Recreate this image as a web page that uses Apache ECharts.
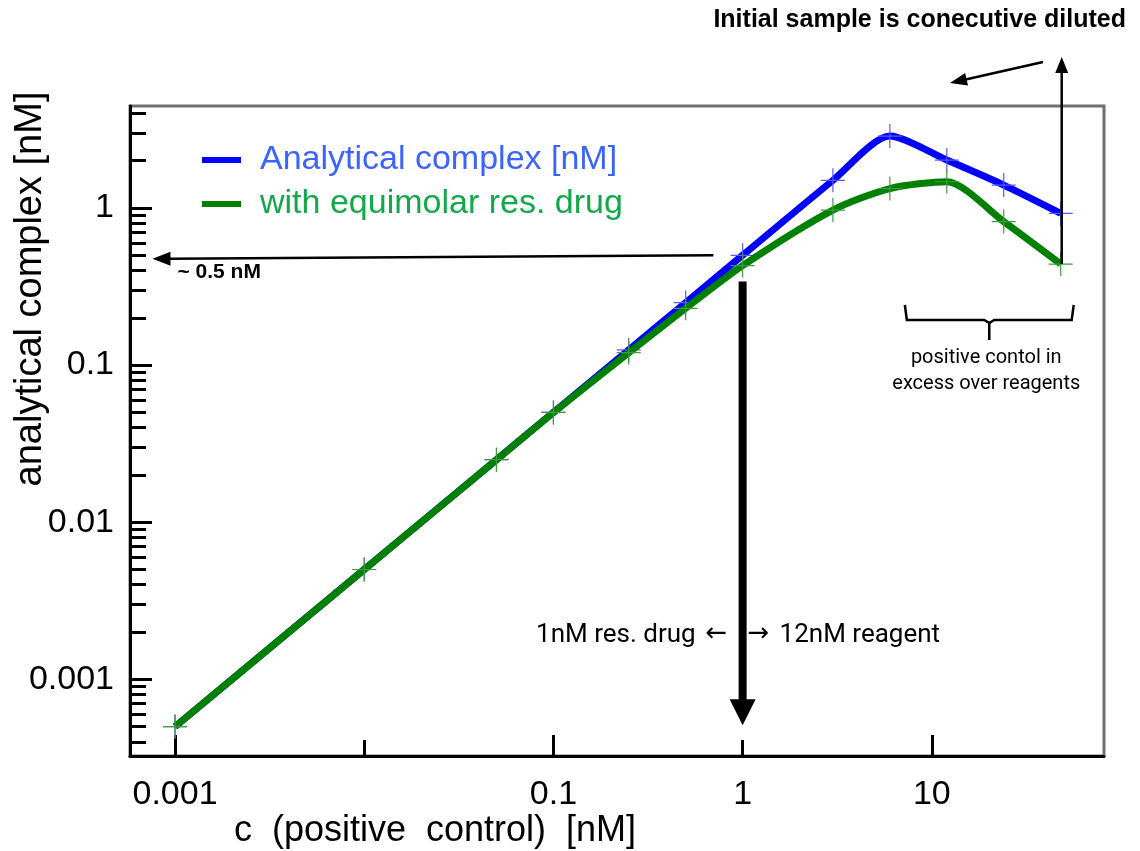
<!DOCTYPE html>
<html><head><meta charset="utf-8">
<script src="https://cdn.jsdelivr.net/npm/echarts@6/dist/echarts.min.js"></script>
<style>html,body{margin:0;padding:0;background:#fff}#c{width:1140px;height:851px}</style>
</head><body><div id="c"></div>
<script>
// ---- data ----
const concentrations = [0.001, 0.01, 0.05, 0.1, 0.25, 0.5, 1, 3, 6, 12, 24, 48];
const analyticalComplex = [0.0005, 0.005, 0.025, 0.05, 0.125, 0.25, 0.5, 1.5, 2.87, 2.02, 1.40, 0.925];
const withEquimolarDrug = [0.0005, 0.005, 0.025, 0.05, 0.12, 0.23, 0.43, 0.97, 1.33, 1.47, 0.82, 0.44];
const seriesNames = ['Analytical complex [nM]', 'with equimolar res. drug'];
const xTickLabels = [0.001, 0.1, 1, 10];
const xLongTicks = [0.001, 0.1, 10];
const xShortTicks = [0.01, 1];
const yTickLabels = [0.001, 0.01, 0.1, 1];
const yMinorTicks = [0.0004, 0.0005, 0.0006, 0.0007, 0.0008, 0.0009,
  0.002, 0.003, 0.004, 0.005, 0.006, 0.007, 0.008, 0.009,
  0.02, 0.03, 0.04, 0.05, 0.06, 0.07, 0.08, 0.09,
  0.2, 0.3, 0.4, 0.5, 0.6, 0.7, 0.8, 0.9, 2, 3, 4];
const xRange = [5.78e-4, 81.3];
const yRange = [3.25e-4, 4.46];

const FONT = 'Liberation Sans, Arial, sans-serif';
const fmt = v => String(+(+v).toPrecision(6));
const cross = 'path://M11.4,0h1.2v24h-1.2Z M0,11.4h24v1.2h-24Z';

const chart = echarts.init(document.getElementById('c'), null, {renderer: 'canvas'});
const tickStyle = {color: '#000', width: 3};
const baseX = {type: 'log', min: xRange[0], max: xRange[1], position: 'bottom', splitLine: {show: false}, minorTick: {show: false}};
const baseY = {type: 'log', min: yRange[0], max: yRange[1], position: 'left', splitLine: {show: false}, minorTick: {show: false}};

chart.setOption({
  animation: false,
  backgroundColor: '#fff',
  grid: {left: 130, right: 36, top: 106, bottom: 95, containLabel: false, outerBoundsMode: 'none',
    show: true, borderColor: '#707070', borderWidth: 3, backgroundColor: 'transparent'},
  legend: {
    orient: 'vertical', left: 197, top: 138, itemWidth: 39, itemHeight: 6, icon: 'rect', itemGap: 10,
    textStyle: {fontSize: 34, fontFamily: FONT, padding: [0, 0, 0, 14]},
    data: [
      {name: seriesNames[0], itemStyle: {color: '#0000ff'}, textStyle: {color: '#3b63ff'}},
      {name: seriesNames[1], itemStyle: {color: '#008000'}, textStyle: {color: '#13a84a'}}
    ]
  },
  xAxis: [
    Object.assign({}, baseX, {
      axisLine: {show: true, onZero: false, lineStyle: {color: '#000', width: 3}},
      axisTick: {show: true, inside: true, length: 21, lineStyle: tickStyle, customValues: xLongTicks},
      axisLabel: {show: true, customValues: xTickLabels, formatter: fmt, fontSize: 34, color: '#000', fontFamily: FONT, margin: 22},
      name: 'c  (positive  control)  [nM]', nameLocation: 'middle', nameGap: 57, nameMoveOverlap: false,
      nameTextStyle: {fontSize: 36, color: '#000', fontFamily: FONT, padding: [0, 364, 0, 0]}
    }),
    Object.assign({}, baseX, {
      axisLine: {show: false, onZero: false},
      axisTick: {show: true, inside: true, length: 16, lineStyle: tickStyle, customValues: xShortTicks},
      axisLabel: {show: false}
    })
  ],
  yAxis: [
    Object.assign({}, baseY, {
      axisLine: {show: true, onZero: false, lineStyle: {color: '#000', width: 3}},
      axisTick: {show: true, inside: true, length: 22, lineStyle: tickStyle, customValues: yTickLabels},
      axisLabel: {show: true, customValues: yTickLabels, formatter: fmt, fontSize: 34, color: '#000', fontFamily: FONT, margin: 16},
      name: 'analytical complex [nM]', nameLocation: 'middle', nameGap: 80, nameRotate: 90, nameMoveOverlap: false,
      nameTextStyle: {fontSize: 38, color: '#000', fontFamily: FONT, padding: [0, 0, 0, 284]}
    }),
    Object.assign({}, baseY, {
      axisLine: {show: false, onZero: false},
      axisTick: {show: true, inside: true, length: 16, lineStyle: tickStyle, customValues: yMinorTicks},
      axisLabel: {show: false}
    })
  ],
  series: [
    {
      name: seriesNames[0], type: 'line', xAxisIndex: 0, yAxisIndex: 0,
      data: concentrations.map((c, i) => [c, analyticalComplex[i]]),
      smooth: 0.25, symbol: cross, symbolSize: 24, showSymbol: true,
      lineStyle: {color: '#0000ff', width: 7}, itemStyle: {color: '#5a5aff'},
      emphasis: {disabled: true}, z: 2
    },
    {
      name: seriesNames[1], type: 'line', xAxisIndex: 0, yAxisIndex: 0,
      data: concentrations.map((c, i) => [c, withEquimolarDrug[i]]),
      smooth: 0.25, symbol: cross, symbolSize: 24, showSymbol: true,
      lineStyle: {color: '#008000', width: 7}, itemStyle: {color: '#409a40'},
      emphasis: {disabled: true}, z: 3
    }
  ]
});

// ---- annotations (anchored to data through the axes) ----
const P = (x, y) => chart.convertToPixel({xAxisIndex: 0, yAxisIndex: 0}, [x, y]);
function arrow(x1, y1, x2, y2, lw, hl, hw) {
  const dx = x2 - x1, dy = y2 - y1, L = Math.hypot(dx, dy), ux = dx / L, uy = dy / L;
  const bx = x2 - ux * hl, by = y2 - uy * hl, nx = -uy, ny = ux;
  return [
    {type: 'line', shape: {x1, y1, x2: bx + ux * 1, y2: by + uy * 1}, style: {stroke: '#000', lineWidth: lw}, z: 10},
    {type: 'polygon', shape: {points: [[x2, y2], [bx + nx * hw / 2, by + ny * hw / 2], [bx - nx * hw / 2, by - ny * hw / 2]]}, style: {fill: '#000'}, z: 10}
  ];
}
const g = [];
// horizontal arrow at ~0.5 nM
const hR = P(0.70, 0.5), hL = P(7.6e-4, 0.475);
g.push(...arrow(hR[0], hR[1], hL[0], hL[1], 2.5, 18, 14));
g.push({type: 'text', x: hL[0] + 25, y: hL[1] + 13, style: {text: '~ 0.5 nM', font: 'bold 21px ' + FONT, fill: '#000', textVerticalAlign: 'middle'}, z: 10});
// thick arrow at 1 nM
const tT = P(1, 0.34), tB = P(1, 5.1e-4);
g.push(...arrow(tT[0], tT[1], tB[0], tB[1], 8, 26, 26));
g.push({type: 'text', x: tT[0] - 47, y: 635, style: {text: '1nM res. drug', font: '26px Roboto, ' + FONT, fill: '#000', textAlign: 'right', textVerticalAlign: 'middle'}, z: 10});
g.push({type: 'text', x: tT[0] - 37, y: 634, style: {text: '\u2190', font: '26px DejaVu Sans', fill: '#000', textAlign: 'left', textVerticalAlign: 'middle'}, z: 10});
g.push({type: 'text', x: tT[0] + 5, y: 634, style: {text: '\u2192', font: '26px DejaVu Sans', fill: '#000', textAlign: 'left', textVerticalAlign: 'middle'}, z: 10});
g.push({type: 'text', x: tT[0] + 37, y: 635, style: {text: '12nM reagent', font: '26px Roboto, ' + FONT, fill: '#000', textAlign: 'left', textVerticalAlign: 'middle'}, z: 10});
// vertical arrow at last dilution point
const vB = P(48, 0.44);
g.push(...arrow(vB[0] + 1, vB[1], vB[0] + 1, 57, 2.5, 16, 13));
// diagonal arrow + title
g.push(...arrow(1043, 62, 950, 83, 2.5, 17, 13));
g.push({type: 'text', x: 1126, y: 20, style: {text: 'Initial sample is conecutive diluted', font: 'bold 25px ' + FONT, fill: '#000', textAlign: 'right', textVerticalAlign: 'middle'}, z: 10});
// brace
const bL = P(6, 0.25)[0] + 15, bR = P(48, 0.25)[0] + 13, bM = (bL + bR) / 2;
g.push({type: 'polyline', shape: {points: [[bL, 305], [bL + 2, 320], [bM - 5, 320], [bM, 323], [bM, 340]]}, style: {stroke: '#000', lineWidth: 2.5, fill: null}, z: 10});
g.push({type: 'polyline', shape: {points: [[bR, 305], [bR - 2, 320], [bM + 5, 320], [bM, 323]]}, style: {stroke: '#000', lineWidth: 2.5, fill: null}, z: 10});
g.push({type: 'text', x: bM - 3, y: 358, style: {text: 'positive contol in', font: '20px Roboto, ' + FONT, fill: '#000', textAlign: 'center', textVerticalAlign: 'middle'}, z: 10});
g.push({type: 'text', x: bM - 3, y: 384, style: {text: 'excess over reagents', font: '20px Roboto, ' + FONT, fill: '#000', textAlign: 'center', textVerticalAlign: 'middle'}, z: 10});
chart.setOption({graphic: {elements: g}});
</script>
</body></html>
